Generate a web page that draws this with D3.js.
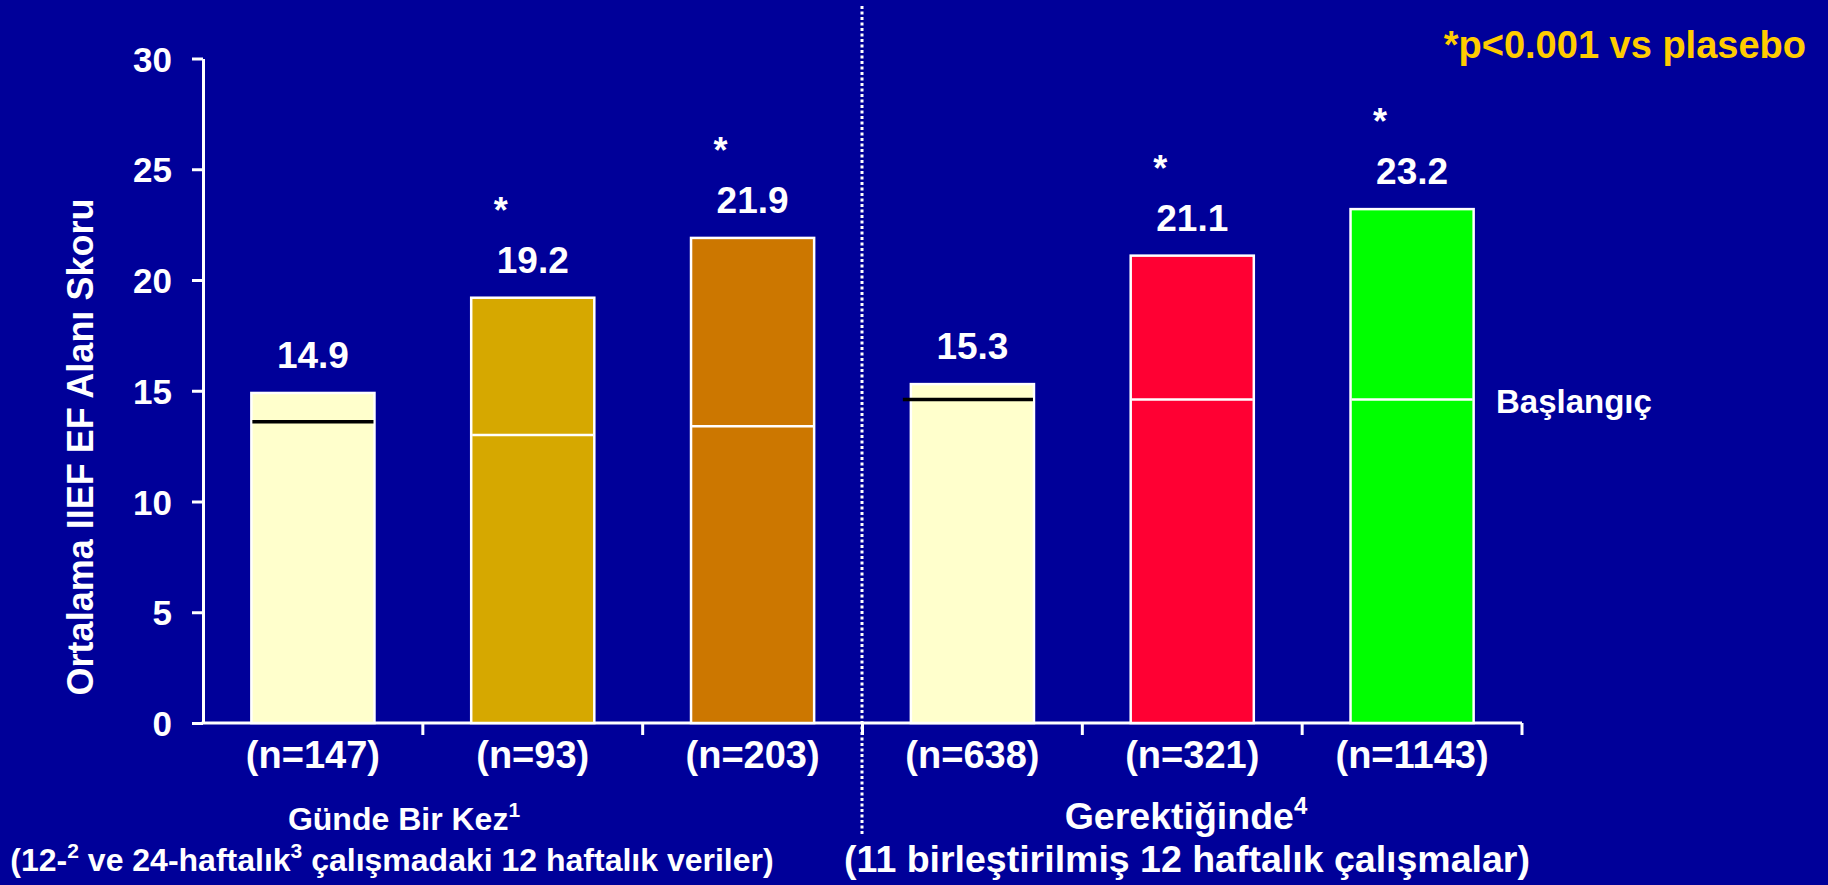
<!DOCTYPE html>
<html>
<head>
<meta charset="utf-8">
<script src="https://cdn.jsdelivr.net/npm/d3@7"></script>
<style>
  html, body { margin: 0; padding: 0; background: #000099; overflow: hidden; }
  text { font-family: "Liberation Sans", Arial, sans-serif; font-weight: bold; fill: #fff; }
</style>
</head>
<body>
<script>
// veriler
const groups = ['n147', 'n93', 'n203', 'n638', 'n321', 'n1143']
const nLabels = ['(n=147)', '(n=93)', '(n=203)', '(n=638)', '(n=321)', '(n=1143)']
const endValues = [14.9, 19.2, 21.9, 15.3, 21.1, 23.2]
const baselineValues = [13.6, 13.0, 13.4, 14.6, 14.6, 14.6]
const significant = [false, true, true, false, true, true]
const barColors = ['#ffffcc', '#d6a800', '#cc7700', '#ffffcc', '#ff0033', '#00ff00']
const baselineColors = ['#000', '#fff', '#fff', '#000', '#fff', '#fff']
const yTicks = [0, 5, 10, 15, 20, 25, 30]

const W = 1828, H = 885

const svg = d3.select('body')
  .append('svg')
  .attr('width', W)
  .attr('height', H)

svg.append('rect')
  .attr('width', W)
  .attr('height', H)
  .attr('fill', '#000099')

const x = d3.scaleBand()
  .domain(groups)
  .range([203, 1522])
  .paddingInner(0.44)
  .paddingOuter(0.22)

const y = d3.scaleLinear()
  .domain([0, 30])
  .range([723, 58.5])

// y ekseni
const yAxis = svg.append('g')
  .attr('transform', `translate(${x.range()[0]},0)`)
  .call(d3.axisLeft(y).tickValues(yTicks).tickSize(11).tickSizeOuter(0).tickPadding(20))
yAxis.select('.domain').attr('stroke', '#fff').attr('stroke-width', 3)
yAxis.selectAll('.tick line').attr('stroke', '#fff').attr('stroke-width', 3)
yAxis.selectAll('.tick text')
  .attr('fill', '#fff')
  .style('font-size', '35px')
  .attr('dy', '0.36em')

// x ekseni
svg.append('line')
  .attr('x1', x.range()[0] - 1.5).attr('x2', x.range()[1])
  .attr('y1', y(0)).attr('y2', y(0))
  .attr('stroke', '#fff').attr('stroke-width', 3)

svg.selectAll('.xtick')
  .data(groups)
  .enter()
  .append('line')
  .attr('class', 'xtick')
  .attr('x1', d => x(d) - x.step() * 0.22 + x.step())
  .attr('x2', d => x(d) - x.step() * 0.22 + x.step())
  .attr('y1', y(0))
  .attr('y2', y(0) + 12)
  .attr('stroke', '#fff').attr('stroke-width', 3)

// ayırıcı noktalı çizgi
svg.append('line')
  .attr('x1', 862).attr('x2', 862)
  .attr('y1', 6).attr('y2', 836)
  .attr('stroke', '#fff')
  .attr('stroke-width', 3)
  .attr('stroke-dasharray', '3,2.5')

// çubuklar
const bars = svg.selectAll('.bar')
  .data(groups)
  .enter()
  .append('g')
  .attr('class', 'bar')

bars.append('rect')
  .attr('x', d => x(d))
  .attr('y', (d, i) => y(endValues[i]))
  .attr('width', x.bandwidth())
  .attr('height', (d, i) => y(0) - y(endValues[i]))
  .attr('fill', (d, i) => barColors[i])
  .attr('stroke', '#fff')
  .attr('stroke-width', 2.5)

bars.append('line')
  .attr('x1', (d, i) => x(d) + (i === 3 ? -8 : 1))
  .attr('x2', d => x(d) + x.bandwidth() - 1)
  .attr('y1', (d, i) => y(baselineValues[i]))
  .attr('y2', (d, i) => y(baselineValues[i]))
  .attr('stroke', (d, i) => baselineColors[i])
  .attr('stroke-width', (d, i) => baselineColors[i] === '#000' ? 3.5 : 2.5)

bars.append('text')
  .attr('x', d => x(d) + x.bandwidth() / 2)
  .attr('y', (d, i) => y(endValues[i]) - 25)
  .attr('text-anchor', 'middle')
  .style('font-size', '37px')
  .text((d, i) => endValues[i].toFixed(1))

bars.filter((d, i) => significant[i])
  .append('text')
  .attr('x', d => x(d) + x.bandwidth() / 2 - 32)
  .attr('y', d => y(endValues[groups.indexOf(d)]) - 75)
  .attr('text-anchor', 'middle')
  .style('font-size', '36px')
  .text('*')

// n etiketleri
svg.selectAll('.nlabel')
  .data(groups)
  .enter()
  .append('text')
  .attr('class', 'nlabel')
  .attr('x', d => x(d) + x.bandwidth() / 2)
  .attr('y', 768)
  .attr('text-anchor', 'middle')
  .style('font-size', '38px')
  .text((d, i) => nLabels[i])

// y ekseni başlığı
svg.append('text')
  .attr('transform', 'translate(93,447) rotate(-90)')
  .attr('text-anchor', 'middle')
  .style('font-size', '36px')
  .text('Ortalama IIEF EF Alanı Skoru')

// grup başlıkları
const g1 = svg.append('text')
  .attr('x', 404).attr('y', 830)
  .attr('text-anchor', 'middle')
  .style('font-size', '32px')
g1.append('tspan').text('Günde Bir Kez')
g1.append('tspan').attr('dy', -13).style('font-size', '21px').text('1')

const g1b = svg.append('text')
  .attr('x', 392).attr('y', 871)
  .attr('text-anchor', 'middle')
  .style('font-size', '32px')
g1b.append('tspan').text('(12-')
g1b.append('tspan').attr('dy', -13).style('font-size', '21px').text('2')
g1b.append('tspan').attr('dy', 13).text(' ve 24-haftalık')
g1b.append('tspan').attr('dy', -13).style('font-size', '21px').text('3')
g1b.append('tspan').attr('dy', 13).text(' çalışmadaki 12 haftalık veriler)')

const g2 = svg.append('text')
  .attr('x', 1186).attr('y', 829)
  .attr('text-anchor', 'middle')
  .style('font-size', '37.5px')
g2.append('tspan').text('Gerektiğinde')
g2.append('tspan').attr('dy', -15).style('font-size', '24px').text('4')

svg.append('text')
  .attr('x', 1187).attr('y', 872)
  .attr('text-anchor', 'middle')
  .style('font-size', '37.5px')
  .text('(11 birleştirilmiş 12 haftalık çalışmalar)')

// notlar
svg.append('text')
  .attr('x', 1806).attr('y', 58)
  .attr('text-anchor', 'end')
  .style('font-size', '38px')
  .style('fill', '#ffcc00')
  .text('*p<0.001 vs plasebo')

svg.append('text')
  .attr('x', 1496).attr('y', 413)
  .style('font-size', '33px')
  .text('Başlangıç')
</script>
</body>
</html>
